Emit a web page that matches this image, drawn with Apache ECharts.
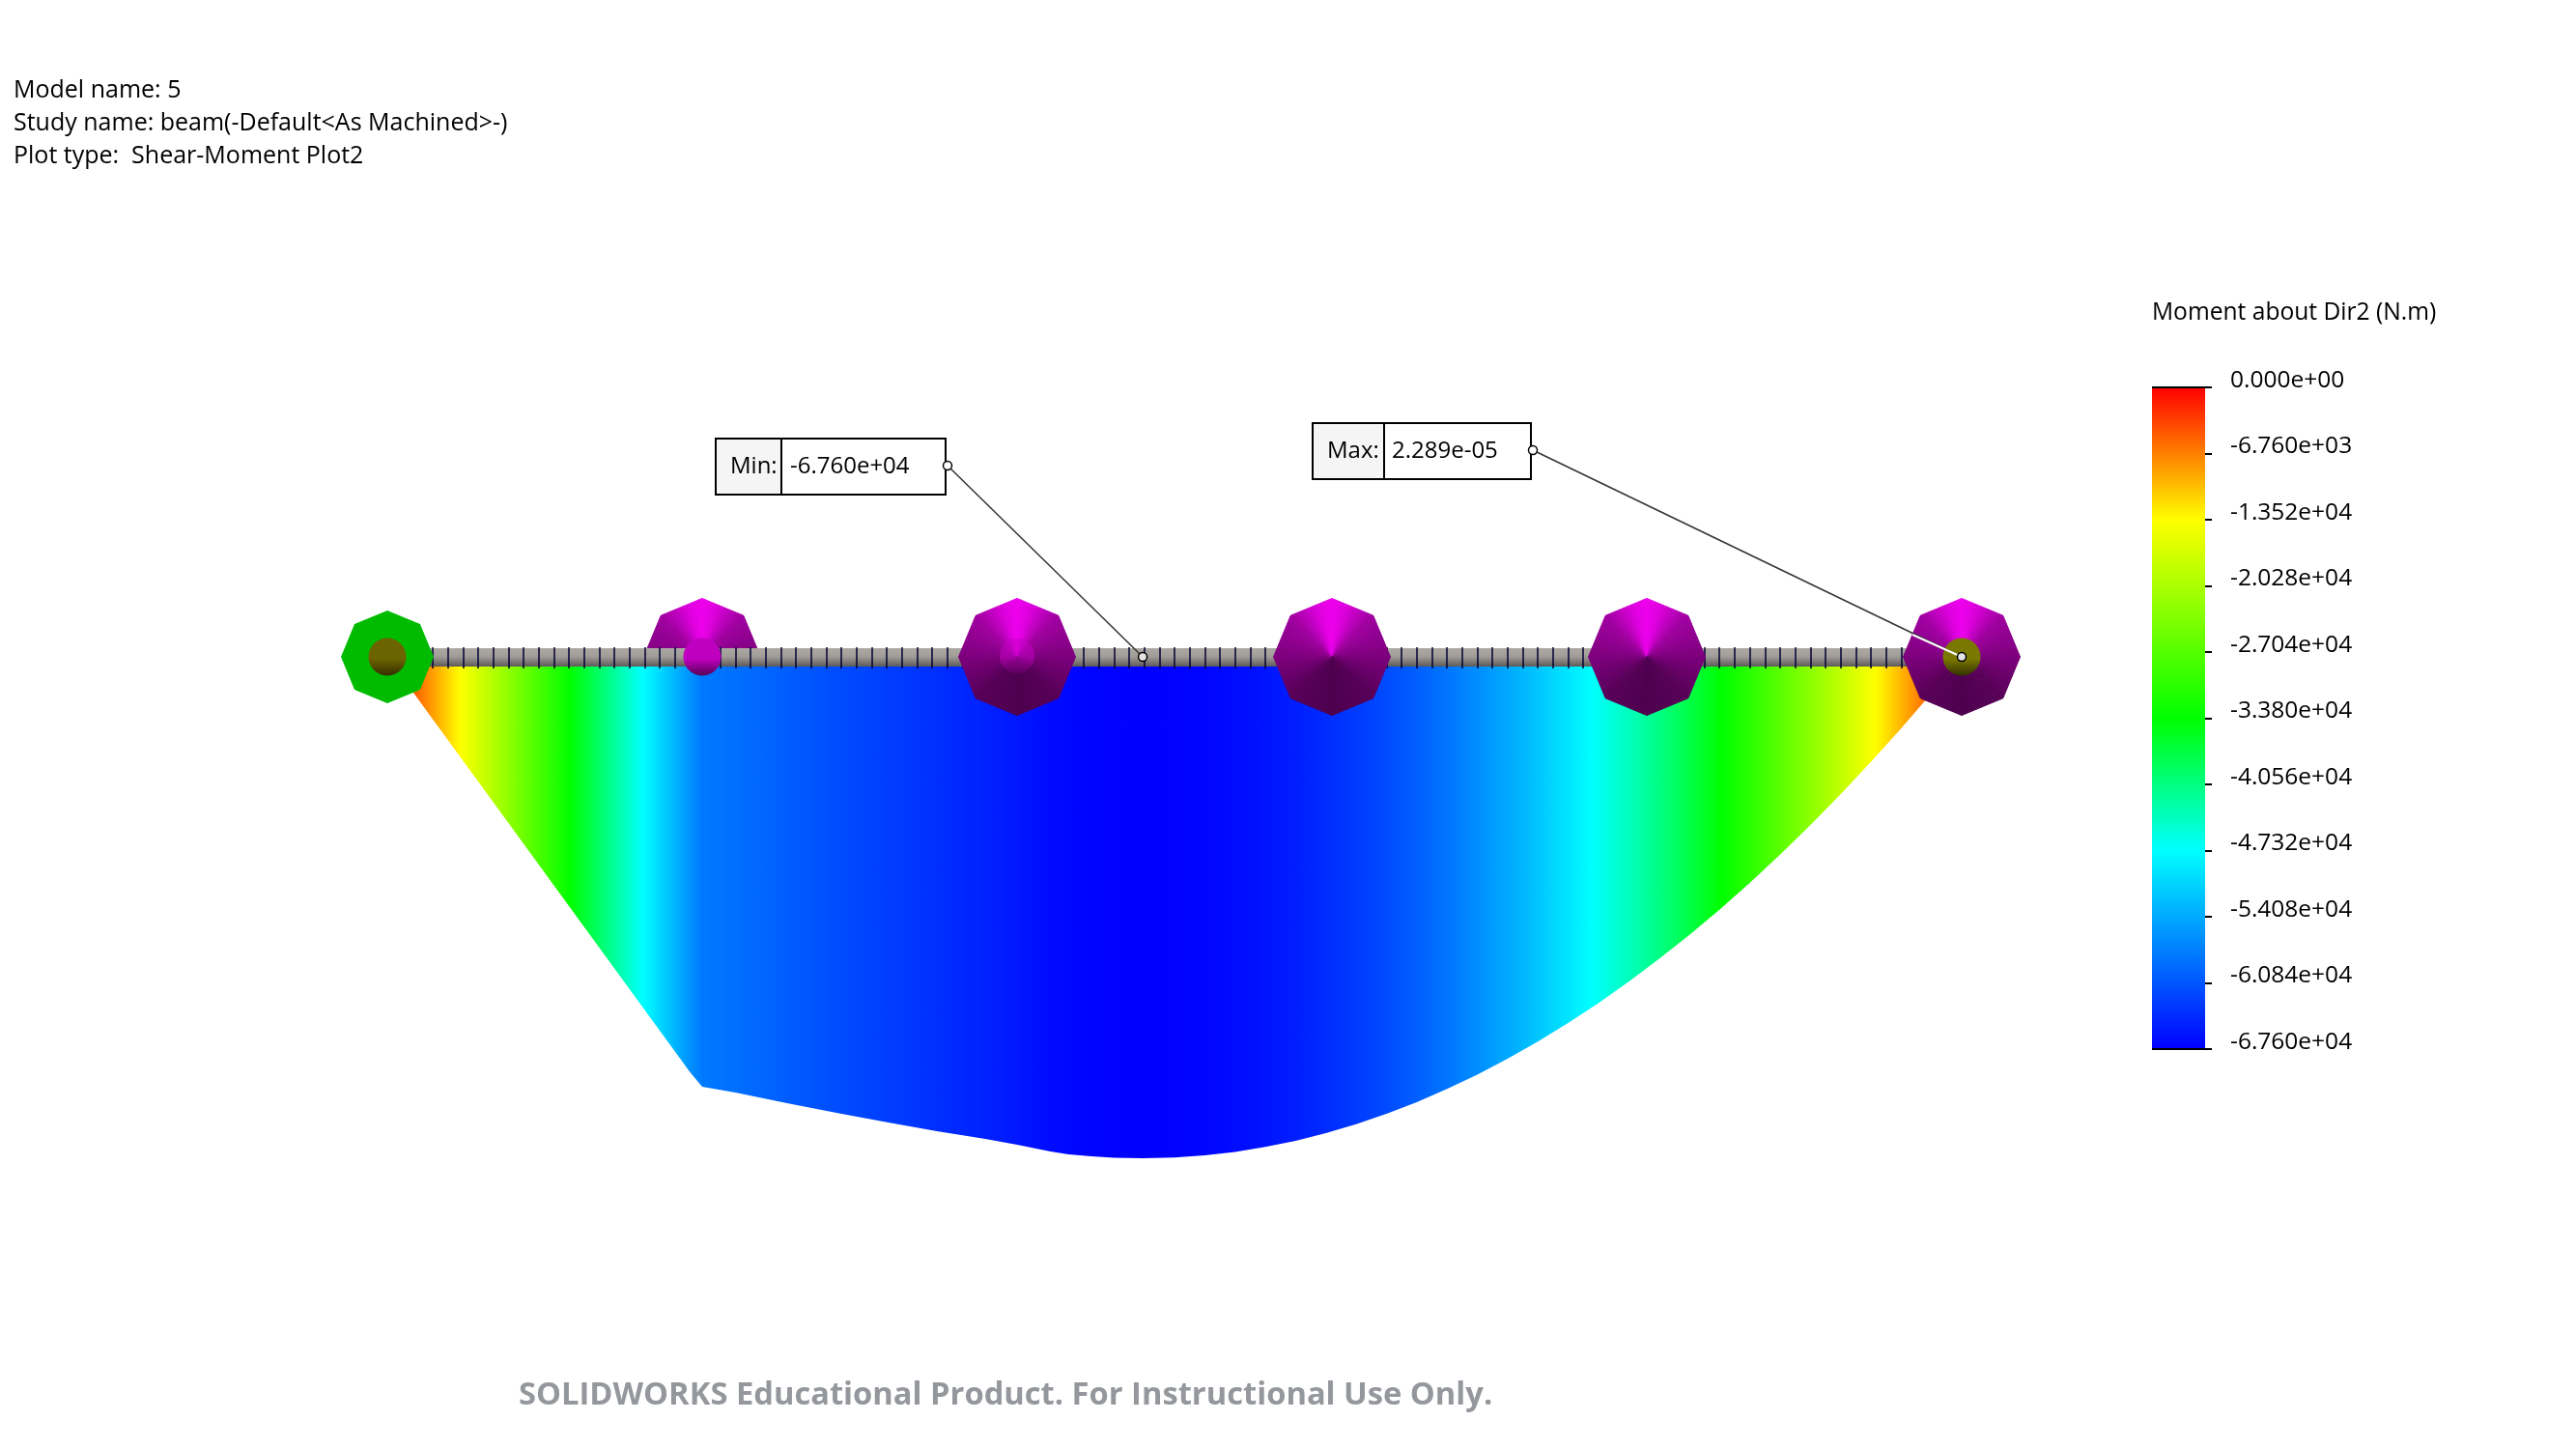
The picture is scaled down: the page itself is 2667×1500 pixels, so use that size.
<!DOCTYPE html>
<html>
<head>
<meta charset="utf-8">
<title>Shear-Moment Plot2</title>
<style>
	html, body { margin: 0; padding: 0; background: #fff; }
	#main { width: 2667px; height: 1500px; }
</style>
<script src="https://cdn.jsdelivr.net/npm/echarts@6/dist/echarts.min.js"></script>
</head>
<body>
<div id="main"></div>
<script>
// beam position is counted in mesh elements, moment in N.m
const nodes = [0, 2, 4, 6, 8, 10, 12, 14, 16, 18, 20, 20.8, 23, 26.4, 30, 33.1, 36.3, 39.5, 41.6, 43.8, 45, 46.5, 48, 49.9, 52, 54, 56, 58, 60, 62, 64, 66, 68, 70, 72, 74, 76, 78, 80, 82, 84, 86, 88, 90, 92, 94, 96, 98, 100, 102, 104];
const moments = [0, -5600, -11200, -16800, -22400, -28000, -33600, -39200, -44800, -50400, -56000, -57960, -58740, -60170, -61600, -62780, -63950, -65000, -65780, -66690, -67080, -67340, -67520, -67600, -67500, -67210, -66740, -66085, -65245, -64220, -63010, -61615, -60035, -58270, -56320, -54190, -51870, -49370, -46680, -43810, -40750, -37510, -34080, -30470, -26675, -22695, -18530, -14180, -9645, -4925, 0];
const elementCount = [104];

const supportNodes = [0, 20.8, 41.6, 62.4, 83.2, 104];
const supportKinds = ['pin', 'dome', 'bump', 'cone', 'cone', 'end'];

const colorValues = [0, -13520, -33800, -47320, -67600];
const colorNames = ['#ff0000', '#ffff00', '#00ff00', '#00ffff', '#0000ff'];

const tickLabels = ['0.000e+00', '-6.760e+03', '-1.352e+04', '-2.028e+04', '-2.704e+04', '-3.380e+04', '-4.056e+04', '-4.732e+04', '-5.408e+04', '-6.084e+04', '-6.760e+04'];
const tickStep = 6760;
const momentMin = -67600;

const headerLines = ['Model name: 5', 'Study name: beam(-Default<As Machined>-)', 'Plot type:  Shear-Moment Plot2'];
const legendTitle = 'Moment about Dir2 (N.m)';
const footerText = 'SOLIDWORKS Educational Product. For Instructional Use Only.';
const minLabel = '-6.760e+04';
const maxLabel = '2.289e-05';
const minNode = 49.9;
const maxNode = 104;

function hexRgb(h) {
	return [parseInt(h.substr(1, 2), 16), parseInt(h.substr(3, 2), 16), parseInt(h.substr(5, 2), 16)];
}

function colorOf(v) {
	for (let i = 1; i < colorValues.length; i++) {
		if (v >= colorValues[i]) {
			let t = (colorValues[i - 1] - v) / (colorValues[i - 1] - colorValues[i]);
			let a = hexRgb(colorNames[i - 1]);
			let b = hexRgb(colorNames[i]);
			return 'rgb(' + Math.round(a[0] + (b[0] - a[0]) * t) + ',' + Math.round(a[1] + (b[1] - a[1]) * t) + ',' + Math.round(a[2] + (b[2] - a[2]) * t) + ')';
		}
	}
	return colorNames[colorNames.length - 1];
}

// horizontal fill of the diagram: colour follows the moment at each node,
// with extra stops where a segment crosses a pure colour of the scale
function areaStops() {
	let total = nodes[nodes.length - 1] - nodes[0];
	let stops = [];
	for (let i = 0; i < nodes.length; i++) {
		stops.push({ offset: (nodes[i] - nodes[0]) / total, color: colorOf(moments[i]) });
		if (i < nodes.length - 1) {
			for (let k = 1; k < colorValues.length - 1; k++) {
				let c = colorValues[k];
				if ((moments[i] - c) * (moments[i + 1] - c) < 0) {
					let x = nodes[i] + (nodes[i + 1] - nodes[i]) * (c - moments[i]) / (moments[i + 1] - moments[i]);
					stops.push({ offset: (x - nodes[0]) / total, color: colorOf(c) });
				}
			}
		}
	}
	return stops;
}

function barStops() {
	return colorValues.map((v, i) => ({ offset: v / momentMin, color: colorNames[i] }));
}

function mix(stops, a) {
	for (let i = 1; i < stops.length; i++) {
		if (a <= stops[i][0]) {
			return stops[i - 1][1] + (stops[i][1] - stops[i - 1][1]) * (a - stops[i - 1][0]) / (stops[i][0] - stops[i - 1][0]);
		}
	}
	return stops[stops.length - 1][1];
}

function coneColor(deg) {
	let a = Math.abs(deg);
	let l = Math.round(mix([[0, 238], [15, 222], [45, 160], [90, 125], [135, 88], [180, 78]], a));
	return 'rgb(' + l + ',0,' + l + ')';
}

function octPoint(cx, cy, r, deg) {
	// octagon with a corner straight up
	let d = ((deg % 45) + 45) % 45;
	let rad = r * Math.cos(Math.PI / 8) / Math.cos((d - 22.5) * Math.PI / 180);
	let t = deg * Math.PI / 180;
	return [cx + rad * Math.sin(t), cy - rad * Math.cos(t)];
}

function coneWedges(cx, cy, from, to) {
	let out = [];
	for (let d = from; d < to; d += 3) {
		let c = coneColor(d + 1.5);
		out.push({
			type: 'polygon',
			shape: { points: [[cx, cy], octPoint(cx, cy, 60.5, d), octPoint(cx, cy, 60.5, d + 3)] },
			style: { fill: c, stroke: c, lineWidth: 1 }
		});
	}
	return out;
}

function ball(cx, cy, r, top, bottom, opacity) {
	return {
		type: 'circle',
		shape: { cx: cx, cy: cy, r: r },
		style: {
			fill: new echarts.graphic.LinearGradient(0, 0, 0, 1, [{ offset: 0, color: top }, { offset: 0.55, color: top }, { offset: 1, color: bottom }]),
			opacity: opacity
		}
	};
}

function renderSupport(params, api) {
	let p = api.coord([api.value(0), 0]);
	let kind = supportKinds[api.value(1)];
	let kids = [];
	if (kind == 'pin') {
		let pts = [];
		for (let d = 0; d < 360; d += 45) {
			pts.push(octPoint(p[0], p[1], 48, d));
		}
		kids.push({ type: 'polygon', shape: { points: pts }, style: { fill: '#00bb00' } });
		kids.push(ball(p[0], p[1], 19.5, '#6c6400', '#352c00', 1));
	} else if (kind == 'dome') {
		kids.push(ball(p[0], p[1], 19.5, '#c000c0', '#540054', 1));
	} else {
		kids = coneWedges(p[0], p[1], -180, 180);
		if (kind == 'bump') {
			kids.push(ball(p[0], p[1] - 1, 18, '#c400c4', '#6c006c', 0.55));
		}
		if (kind == 'end') {
			kids.push(ball(p[0], p[1], 19.5, '#7a7800', '#343200', 1));
		}
	}
	return { type: 'group', children: kids };
}

function renderDome(params, api) {
	let p = api.coord([api.value(0), 0]);
	return { type: 'group', children: coneWedges(p[0], p[1], -90, 90) };
}

function textEl(x, y, text, font, fill) {
	return {
		type: 'text',
		z: 20,
		silent: true,
		style: { x: x, y: y, text: text, font: font, fill: fill || '#000', align: 'left', verticalAlign: 'middle' }
	};
}

function lineEl(x1, y1, x2, y2, color, w) {
	return {
		type: 'line',
		z: 20,
		silent: true,
		shape: { x1: x1, y1: y1, x2: x2, y2: y2 },
		style: { stroke: color, lineWidth: w }
	};
}

function callout(x, y, w, h, div, name, nameX, value, valueX, target) {
	let my = y + h / 2;
	return [
		{ type: 'rect', z: 20, silent: true, shape: { x: x, y: y, width: w, height: h }, style: { fill: '#fff', stroke: '#000', lineWidth: 2 } },
		{ type: 'rect', z: 20, silent: true, shape: { x: x, y: y, width: div - x, height: h }, style: { fill: '#f5f5f5', stroke: '#000', lineWidth: 2 } },
		textEl(nameX, my, name, '24px "Open Sans"'),
		textEl(valueX, my, value, '24px "Open Sans"'),
		lineEl(x + w + 2, my - 1, target[0], target[1], '#333', 1.5),
		{ type: 'circle', z: 21, silent: true, shape: { cx: x + w + 2, cy: my - 1, r: 4.5 }, style: { fill: '#fff', stroke: '#000', lineWidth: 1.5 } },
		{ type: 'circle', z: 21, silent: true, shape: { cx: target[0], cy: target[1], r: 4.5 }, style: { fill: '#e4e4e4', stroke: '#000', lineWidth: 1.5 } }
	];
}

let chart = echarts.init(document.getElementById('main'), null, { renderer: 'canvas' });

let option = {
	animation: false,
	backgroundColor: '#fff',
	grid: [
		{ left: 401, top: 680, width: 1630, height: 519 },
		{ left: 2228, top: 401, width: 55, height: 685 }
	],
	xAxis: [
		{
			// the beam itself
			type: 'value', gridIndex: 0, position: 'top', min: 0, max: elementCount[0], z: 3,
			axisLine: {
				show: true,
				onZero: false,
				lineStyle: {
					width: 19,
					color: new echarts.graphic.LinearGradient(0, 671, 0, 690, [
						{ offset: 0, color: '#aca8a2' },
						{ offset: 0.45, color: '#a09c98' },
						{ offset: 0.75, color: '#7c7976' },
						{ offset: 1, color: '#5c5a58' }
					], true)
				}
			},
			axisTick: { show: false }, axisLabel: { show: false }, splitLine: { show: false }
		},
		{
			// element joints
			type: 'value', gridIndex: 0, position: 'top', offset: -12, min: 0, max: elementCount[0], interval: 1, z: 3,
			axisLine: { show: false, onZero: false },
			axisTick: { show: true, length: 22, lineStyle: { color: '#000033', width: 1.5 } },
			axisLabel: { show: false }, splitLine: { show: false }
		},
		{
			type: 'category', gridIndex: 1, data: [''], show: false
		}
	],
	yAxis: [
		{ type: 'value', gridIndex: 0, min: momentMin, max: 0, show: false },
		{
			type: 'value', gridIndex: 1, position: 'right', min: momentMin, max: 0, interval: tickStep,
			axisLine: { show: false, onZero: false },
			axisTick: { show: true, length: 7, lineStyle: { color: '#000', width: 2 } },
			splitLine: { show: false },
			axisLabel: {
				show: true,
				margin: 26,
				color: '#000',
				fontFamily: 'Open Sans',
				fontSize: 24.5,
				verticalAlign: 'bottom',
				lineHeight: 14,
				formatter: function(v) {
					return tickLabels[Math.round(-v / tickStep)];
				}
			}
		}
	],
	series: [
		{
			type: 'line',
			xAxisIndex: 0,
			yAxisIndex: 0,
			z: 1,
			silent: true,
			showSymbol: false,
			lineStyle: { width: 0, opacity: 0 },
			areaStyle: { opacity: 1, color: new echarts.graphic.LinearGradient(0, 0, 1, 0, areaStops()) },
			data: nodes.map((n, i) => [n, moments[i]])
		},
		{
			type: 'custom',
			xAxisIndex: 0,
			yAxisIndex: 0,
			z: 1,
			silent: true,
			renderItem: renderDome,
			data: supportNodes.map((n, i) => [n, i]).filter(d => supportKinds[d[1]] == 'dome')
		},
		{
			type: 'custom',
			xAxisIndex: 0,
			yAxisIndex: 0,
			z: 5,
			silent: true,
			clip: false,
			renderItem: renderSupport,
			data: supportNodes.map((n, i) => [n, i])
		},
		{
			type: 'bar',
			xAxisIndex: 2,
			yAxisIndex: 1,
			barWidth: '100%',
			silent: true,
			itemStyle: { color: new echarts.graphic.LinearGradient(0, 0, 0, 1, barStops()) },
			data: [momentMin],
			markLine: {
				silent: true,
				symbol: 'none',
				label: { show: false },
				lineStyle: { color: '#000', width: 2, type: 'solid' },
				data: [{ yAxis: 0 }, { yAxis: momentMin }]
			}
		}
	]
};
chart.setOption(option);

// annotations sit on top, the leaders end on the beam through the chart's scale
let minPt = chart.convertToPixel({ xAxisIndex: 0, yAxisIndex: 0 }, [minNode, 0]);
let maxPt = chart.convertToPixel({ xAxisIndex: 0, yAxisIndex: 0 }, [maxNode, 0]);
let graphics = [];
headerLines.forEach((t, i) => {
	graphics.push(textEl(14, 94 + i * 34, t, '25px "Open Sans"'));
});
graphics.push(textEl(2228, 324, legendTitle, '24.6px "Open Sans"'));
graphics.push(textEl(537, 1445, footerText, 'bold 32.7px "Open Sans"', '#94979c'));
graphics = graphics.concat(callout(741, 454, 238, 58, 809, 'Min:', 756, minLabel, 818, minPt));
graphics = graphics.concat(callout(1359, 438, 226, 58, 1433, 'Max:', 1374, maxLabel, 1441, maxPt));
graphics.push(lineEl(1980, 657, maxPt[0], maxPt[1], '#fff', 2));
chart.setOption({ graphic: graphics });
</script>
</body>
</html>
